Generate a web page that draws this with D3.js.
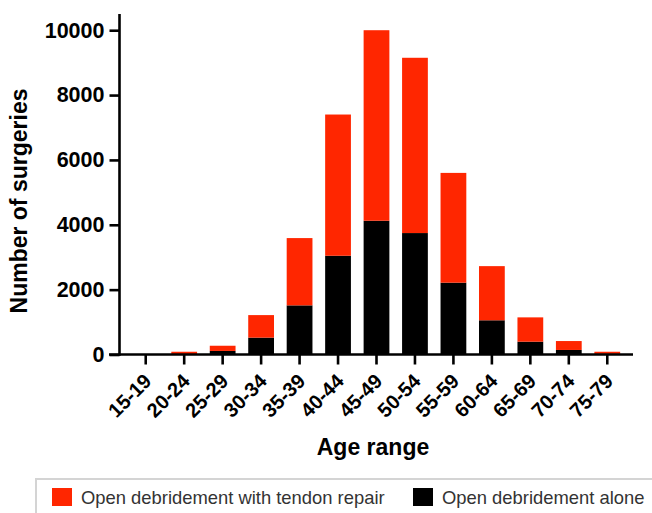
<!DOCTYPE html>
<html>
<head>
<meta charset="utf-8">
<script src="https://cdn.jsdelivr.net/npm/d3@7/dist/d3.min.js"></script>
<style>
  body { margin: 0; background: #fff; }
  svg { display: block; font-family: "Liberation Sans", Arial, sans-serif; }
</style>
</head>
<body>
<svg id="chart" width="652" height="513"></svg>
<script>
// age ranges along the x axis
const ageRanges = ["15-19", "20-24", "25-29", "30-34", "35-39", "40-44", "45-49",
                   "50-54", "55-59", "60-64", "65-69", "70-74", "75-79"];
// bottom segment
const debridementAlone = [3, 12, 110, 520, 1515, 3045, 4125, 3745, 2215, 1055, 395, 140, 20];
// top segment
const withTendonRepair = [4, 73, 160, 695, 2075, 4355, 5875, 5405, 3385, 1670, 750, 275, 65];
const yTicks = [0, 2000, 4000, 6000, 8000, 10000];
const seriesNames = ["Open debridement with tendon repair", "Open debridement alone"];

const svg = d3.select("#chart");

const rows = ageRanges.map((a, i) => ({
    age: a,
    alone: debridementAlone[i],
    repair: withTendonRepair[i]
}));

const stacked = d3.stack().keys(["alone", "repair"])(rows);
const colors = { alone: "#000000", repair: "#ff2600" };

const x = d3.scaleBand()
    .domain(ageRanges)
    .range([126.5, 626.5])
    .paddingInner(0.33)
    .paddingOuter(0.165);

const y = d3.scaleLinear()
    .domain([0, 10500])
    .range([354.5, 14]);

// bars
svg.append("g")
  .selectAll("g")
  .data(stacked)
  .join("g")
    .attr("fill", d => colors[d.key])
  .selectAll("rect")
  .data(d => d)
  .join("rect")
    .attr("x", d => x(d.data.age))
    .attr("width", x.bandwidth())
    .attr("y", d => y(d[1]))
    .attr("height", d => y(d[0]) - y(d[1]));

// y axis
const yAxis = svg.append("g")
    .attr("transform", "translate(119.5,0)")
    .call(d3.axisLeft(y).tickValues(yTicks).tickFormat(d3.format("d")).tickSize(10).tickPadding(5));
yAxis.select(".domain").remove();
yAxis.append("line")
    .attr("x1", 0).attr("x2", 0)
    .attr("y1", 14).attr("y2", y(0) + 1.25)
    .attr("stroke", "#000").attr("stroke-width", 2.6);
yAxis.selectAll(".tick line").attr("stroke-width", 2.6);
yAxis.selectAll(".tick text")
    .attr("font-size", 21.5).attr("font-weight", "bold").attr("fill", "#000");

// x axis
const xAxis = svg.append("g")
    .attr("transform", `translate(0,${y(0)})`)
    .call(d3.axisBottom(x).tickSize(10));
xAxis.select(".domain").remove();
xAxis.append("line")
    .attr("x1", 109).attr("x2", 633)
    .attr("y1", 0).attr("y2", 0)
    .attr("stroke", "#000").attr("stroke-width", 2.6);
xAxis.selectAll(".tick line").attr("stroke-width", 2.6);
xAxis.selectAll(".tick text")
    .attr("font-size", 20).attr("font-weight", "bold").attr("fill", "#000")
    .attr("text-anchor", "end")
    .attr("x", null).attr("y", null).attr("dy", null)
    .attr("transform", "translate(7,28) rotate(-45)");

// axis titles
svg.append("text")
    .attr("x", 373).attr("y", 455)
    .attr("text-anchor", "middle")
    .attr("font-size", 23).attr("font-weight", "bold")
    .text("Age range");

svg.append("text")
    .attr("transform", "translate(27,201) rotate(-90)")
    .attr("text-anchor", "middle")
    .attr("font-size", 23).attr("font-weight", "bold")
    .text("Number of surgeries");

// legend
const legend = svg.append("g");
legend.append("rect")
    .attr("x", 36).attr("y", 479)
    .attr("width", 640).attr("height", 60)
    .attr("fill", "#fff").attr("stroke", "#d4d4d4").attr("stroke-width", 2);

const legendItems = [
    { name: seriesNames[0], color: colors.repair, x: 52 },
    { name: seriesNames[1], color: colors.alone, x: 413 }
];
const item = legend.selectAll(".item")
    .data(legendItems)
    .join("g")
    .attr("class", "item")
    .attr("transform", d => `translate(${d.x},488)`);
item.append("rect")
    .attr("width", 20).attr("height", 18)
    .attr("fill", d => d.color);
item.append("text")
    .attr("x", 29).attr("y", 16)
    .attr("font-size", 18.4).attr("fill", "#333")
    .text(d => d.name);
</script>
</body>
</html>
